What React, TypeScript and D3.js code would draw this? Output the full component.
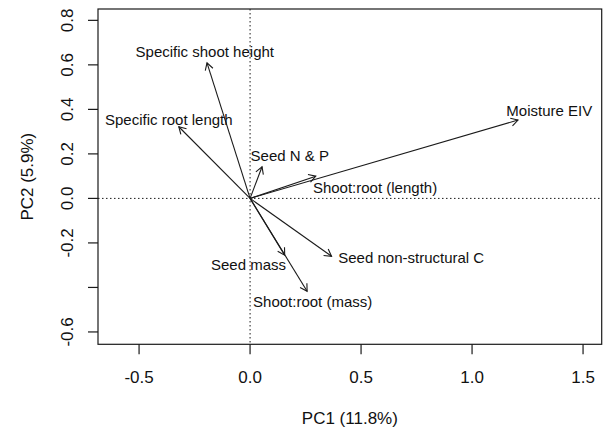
import React from "react";
import * as d3 from "d3";

const variables = [
  "Specific shoot height",
  "Specific root length",
  "Seed N & P",
  "Moisture EIV",
  "Shoot:root (length)",
  "Seed mass",
  "Shoot:root (mass)",
  "Seed non-structural C",
];
const pc1 = [-0.194, -0.321, 0.054, 1.207, 0.296, 0.156, 0.257, 0.367];
const pc2 = [0.609, 0.322, 0.142, 0.352, 0.1, -0.255, -0.417, -0.26];
const labelX = [-0.204, -0.366, 0.179, 1.348, 0.563, -0.007, 0.282, 0.726];
const labelY = [0.658, 0.356, 0.191, 0.393, 0.05, -0.295, -0.461, -0.266];

const xTicks = [-0.5, 0.0, 0.5, 1.0, 1.5];
const xTickLabels = ["-0.5", "0.0", "0.5", "1.0", "1.5"];
const yTicks = [-0.6, -0.4, -0.2, 0.0, 0.2, 0.4, 0.6, 0.8];
const yTickLabels = ["-0.6", "", "-0.2", "0.0", "0.2", "0.4", "0.6", "0.8"];

const xTitle = "PC1 (11.8%)";
const yTitle = "PC2 (5.9%)";

const W = 607;
const H = 430;
const L = 98, R = 601.7, T = 9, B = 344.3;
const FONT = "'Liberation Sans', Arial, Helvetica, sans-serif";

export default function App() {
  const x = d3.scaleLinear().domain([-0.685, 1.584]).range([L, R]);
  const y = d3.scaleLinear().domain([-0.6555, 0.851]).range([B, T]);
  const x0 = x(0), y0 = y(0);
  const headLen = 8;
  const headAng = Math.PI / 6;
  const stroke = "#1a1a1a";

  return (
    <svg width={W} height={H} style={{ position: "absolute", left: 0, top: 0, background: "#fff" }} fontFamily={FONT}>
      <rect x={0} y={0} width={W} height={H} fill="#fff" />
      {/* reference lines */}
      <line x1={x0} x2={x0} y1={T} y2={B} stroke={stroke} strokeWidth={1} strokeDasharray="1.5,2.5" />
      <line x1={L} x2={R} y1={y0} y2={y0} stroke={stroke} strokeWidth={1} strokeDasharray="1.5,2.5" />
      {/* arrows */}
      {variables.map((v, i) => {
        const tx = x(pc1[i]), ty = y(pc2[i]);
        const a = Math.atan2(ty - y0, tx - x0);
        const h1x = tx - headLen * Math.cos(a - headAng);
        const h1y = ty - headLen * Math.sin(a - headAng);
        const h2x = tx - headLen * Math.cos(a + headAng);
        const h2y = ty - headLen * Math.sin(a + headAng);
        return (
          <g key={v} stroke={stroke} strokeWidth={1.1} fill="none">
            <line x1={x0} y1={y0} x2={tx} y2={ty} />
            <polyline points={`${h1x},${h1y} ${tx},${ty} ${h2x},${h2y}`} />
          </g>
        );
      })}
      {/* arrow labels */}
      {variables.map((v, i) => (
        <text key={v} x={x(labelX[i])} y={y(labelY[i])} textAnchor="middle" dominantBaseline="central" fontSize={15} fill="#111">
          {v}
        </text>
      ))}
      {/* box */}
      <rect x={L} y={T} width={R - L} height={B - T} fill="none" stroke={stroke} strokeWidth={1.2} />
      {/* x axis */}
      {xTicks.map((t, i) => (
        <g key={"x" + t}>
          <line x1={x(t)} x2={x(t)} y1={B} y2={B + 10} stroke={stroke} strokeWidth={1.2} />
          <text x={x(t)} y={383} textAnchor="middle" fontSize={17} fill="#111">{xTickLabels[i]}</text>
        </g>
      ))}
      {/* y axis */}
      {yTicks.map((t, i) => (
        <g key={"y" + t}>
          <line x1={L} x2={L - 10} y1={y(t)} y2={y(t)} stroke={stroke} strokeWidth={1.2} />
          <text transform={`translate(73,${y(t)}) rotate(-90)`} textAnchor="middle" fontSize={17} fill="#111">{yTickLabels[i]}</text>
        </g>
      ))}
      <text x={(L + R) / 2} y={424} textAnchor="middle" fontSize={17} fill="#111">{xTitle}</text>
      <text transform={`translate(33,${(T + B) / 2}) rotate(-90)`} textAnchor="middle" fontSize={17} fill="#111">{yTitle}</text>
    </svg>
  );
}
